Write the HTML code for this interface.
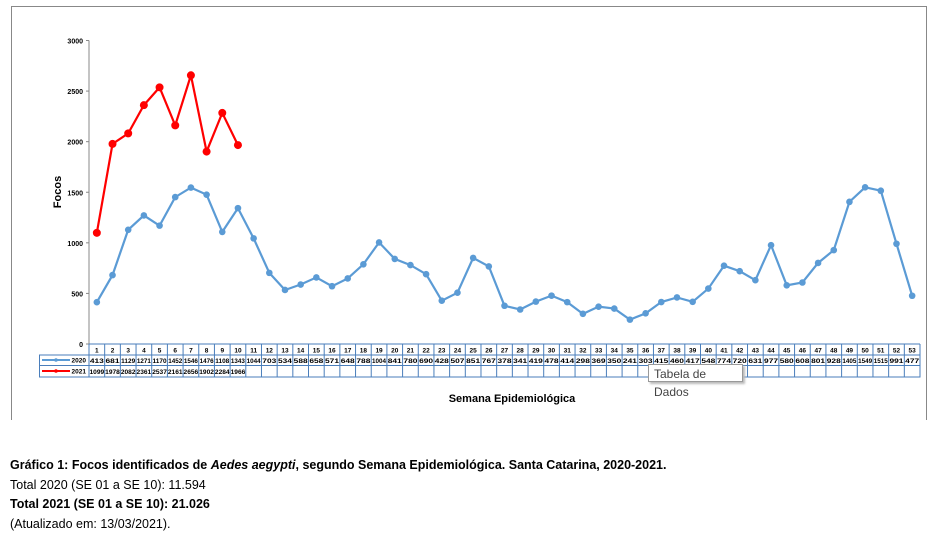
<!DOCTYPE html>
<html><head><meta charset="utf-8"><style>
body{margin:0;background:#fff;width:949px;height:538px;overflow:hidden;font-family:"Liberation Sans",sans-serif}
.cap{position:absolute;left:10px;font-size:12.5px;color:#000}
</style></head><body>
<svg id="chart" width="949" height="440" style="position:absolute;left:0;top:0" xmlns="http://www.w3.org/2000/svg">
<path d="M11.5 420 V6.5 H926.5 V420" fill="none" stroke="#888" stroke-width="1"/>
<g id="g"></g>
<text x="512" y="402" font-size="11" font-weight="bold" text-anchor="middle">Semana Epidemiológica</text>
<text transform="translate(61,192) rotate(-90)" font-size="11" font-weight="bold" text-anchor="middle">Focos</text>
</svg>
<div style="position:absolute;left:648px;top:364px;width:95px;height:18px;border:1px solid #999;background:#fff;font-size:12px;color:#444;line-height:18px;padding-left:5px;box-sizing:border-box;box-shadow:2px 2px 2px #bbb">Tabela de Dados</div>
<div class="cap" style="top:458px;font-weight:bold">Gráfico 1: Focos identificados de <i>Aedes aegypti</i>, segundo Semana Epidemiológica. Santa Catarina, 2020-2021.</div>
<div class="cap" style="top:478px">Total 2020 (SE 01 a SE 10): 11.594</div>
<div class="cap" style="top:497px;font-weight:bold">Total 2021 (SE 01 a SE 10): 21.026</div>
<div class="cap" style="top:517px">(Atualizado em: 13/03/2021).</div>
<script>
const weeks=[];for(let i=1;i<=53;i++)weeks.push(i);
const s2020=[413,681,1129,1271,1170,1452,1546,1476,1108,1343,1044,703,534,588,658,571,648,788,1004,841,780,690,428,507,851,767,378,341,419,478,414,298,369,350,241,303,415,460,417,548,774,720,631,977,580,608,801,928,1405,1549,1515,991,477];
const s2021=[1099,1978,2082,2361,2537,2161,2656,1902,2284,1966];
const yTicks=[0,500,1000,1500,2000,2500,3000];
const NS="http://www.w3.org/2000/svg",g=document.getElementById('g');
const X0=89,X1=920,Y0=344,Y1=40.5,cw=(X1-X0)/weeks.length;
const x=i=>X0+(i+0.5)*cw, y=v=>Y0-(v/3000)*(Y0-Y1);
function el(t,a,p){const e=document.createElementNS(NS,t);for(const k in a)e.setAttribute(k,a[k]);(p||g).appendChild(e);return e;}
const ax=el('line',{x1:X0,x2:X0,y1:Y1,y2:Y0,stroke:'#888'});


yTicks.forEach(v=>{
 const t=el('text',{x:X0-6,y:y(v)+3,'font-size':7,'font-weight':'bold','text-anchor':'end'});t.textContent=v;
 
 
 el('line',{x1:X0-3,x2:X0,y1:y(v),y2:y(v),stroke:'#888'});
});
// table
const tb='#4a7ebb';
const rows=[344,355,365,377];
el('rect',{x:39.5,y:355,width:X1-39.5,height:22,fill:'none',stroke:tb});
el('line',{x1:X0,x2:X1,y1:344,y2:344,stroke:tb});
el('line',{x1:39.5,x2:X1,y1:365.5,y2:365.5,stroke:tb});
for(let i=0;i<=weeks.length;i++){el('line',{x1:X0+i*cw,x2:X0+i*cw,y1:344,y2:377,stroke:tb});}
weeks.forEach((w,i)=>{
 const t=el('text',{x:x(i),y:352.5,'font-size':6.5,'font-weight':'bold','text-anchor':'middle'});t.textContent=w;
 
 
 const a=el('text',{x:x(i),y:363,'font-size':6,'font-weight':'bold','text-anchor':'middle',textLength:Math.min(14,cw-1),lengthAdjust:'spacingAndGlyphs'});a.textContent=s2020[i];
 
 
 if(i<s2021.length){const b=el('text',{x:x(i),y:374,'font-size':6,'font-weight':'bold','text-anchor':'middle',textLength:cw-1,lengthAdjust:'spacingAndGlyphs'});b.textContent=s2021[i];
 
 }
});
[['2020','#5b9bd5',360],['2021','#ff0000',371]].forEach(([n,c,yy])=>{
 el('line',{x1:42,x2:70,y1:yy,y2:yy,stroke:c,'stroke-width':2});
 el('circle',{cx:56,cy:yy,r:1.8,fill:c});
 const t=el('text',{x:86,y:yy+2.5,'font-size':6.5,'font-weight':'bold','text-anchor':'end'});t.textContent=n;
 
 
});
function series(d,c,name,r){
 const p=el('polyline',{points:d.map((v,i)=>x(i)+','+y(v)).join(' '),fill:'none',stroke:c,'stroke-width':2.2});
 
 
 d.forEach((v,i)=>{const m=el('circle',{cx:x(i),cy:y(v),r:r,fill:c});
 
 });
}
series(s2020,'#5b9bd5','2020',3.3);
series(s2021,'#ff0000','2021',4);
</script>
</body></html>
